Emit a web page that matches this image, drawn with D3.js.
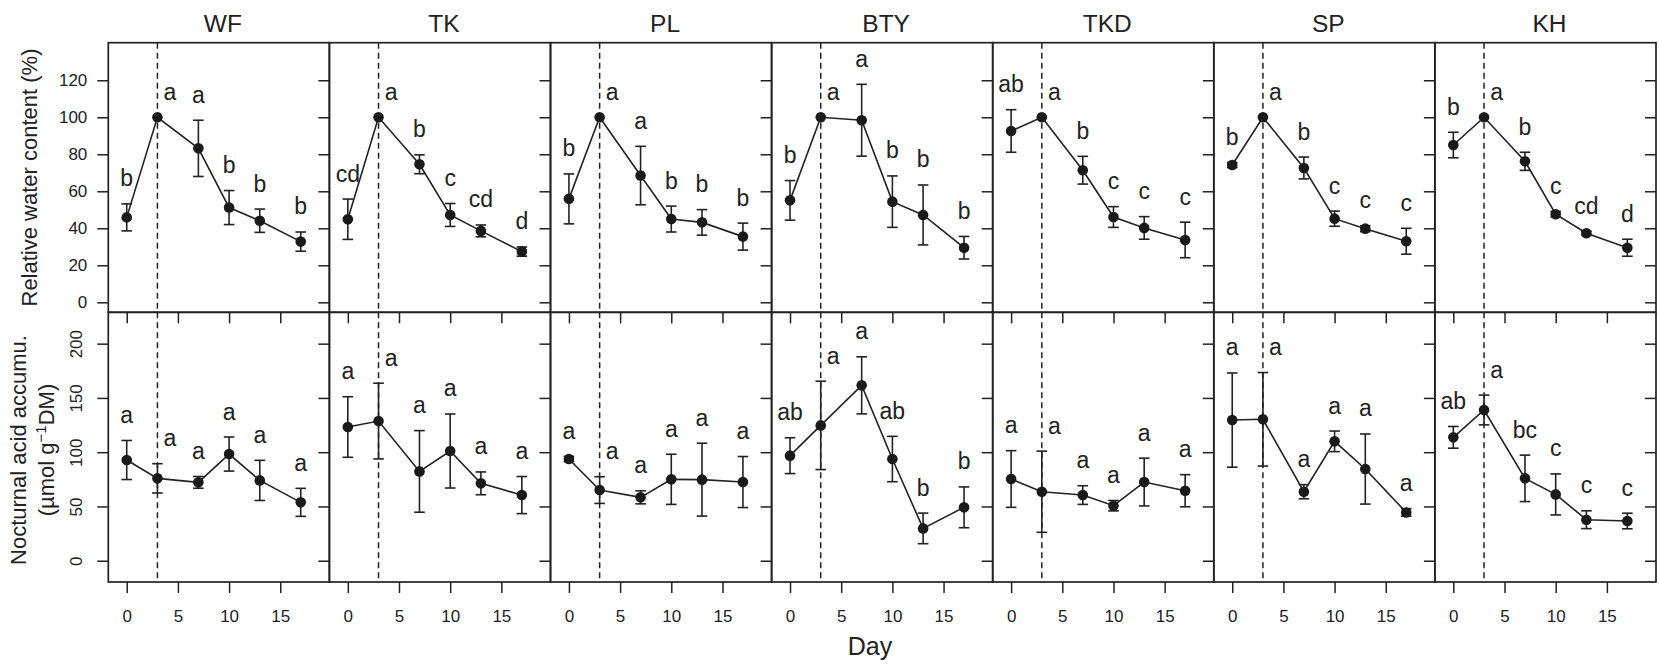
<!DOCTYPE html>
<html lang="en">
<head>
<meta charset="UTF-8">
<title>Relative water content and nocturnal acid accumulation</title>
<script src="https://d3js.org/d3.v7.min.js"></script>
<style>
  body { margin: 0; background: #fff; }
  svg { display: block; font-family: "Liberation Sans", Arial, sans-serif; }
  .frame { fill: none; stroke: #222; stroke-width: 1.7; }
  .tick line { stroke: #222; stroke-width: 1.5; }
  .tick text { fill: #222; font-size: 17px; }
  .domain { display: none; }
  .series { fill: none; stroke: #222; stroke-width: 1.6; }
  .err { stroke: #222; stroke-width: 1.6; }
  .dot { fill: #1a1a1a; }
  .drop { stroke: #222; stroke-width: 1.5; stroke-dasharray: 6 4; }
  .letter { font-size: 23px; fill: #222; text-anchor: middle; }
  .label { fill: #222; }
</style>
</head>
<body>
<svg id="chart" width="1659" height="664"></svg>
<script>
// sites and sampling days
const sites = ["WF", "TK", "PL", "BTY", "TKD", "SP", "KH"];
const days = [0, 3, 7, 10, 13, 17];
const rewaterDay = 3;

// relative water content (%), mean and error, one row per site
const rwcMean = [
  [45.9, 100, 83.2, 51.2, 44.1, 32.8],
  [44.9, 100, 74.6, 47.2, 38.6, 27.4],
  [55.9, 100, 68.5, 45.0, 43.2, 35.5],
  [55.1, 100, 98.4, 54.4, 47.2, 29.5],
  [92.6, 100, 71.4, 46.1, 40.2, 33.7],
  [74.2, 100, 72.6, 45.2, 39.8, 33.0],
  [85.0, 100, 76.2, 47.6, 37.3, 29.5]
];
const rwcErr = [
  [7.3, 0, 15.2, 9.2, 6.3, 5.2],
  [10.9, 0, 5.1, 6.2, 3.2, 2.5],
  [13.5, 0, 15.8, 7.0, 6.9, 7.3],
  [10.7, 0, 19.4, 13.9, 16.2, 6.1],
  [11.5, 0, 7.5, 5.6, 6.1, 9.6],
  [1.4, 0, 5.9, 4.1, 1.6, 7.0],
  [6.9, 0, 4.9, 1.5, 1.1, 4.6]
];
const rwcLetters = [
  ["b", "a", "a", "b", "b", "b"],
  ["cd", "a", "b", "c", "cd", "d"],
  ["b", "a", "a", "b", "b", "b"],
  ["b", "a", "a", "b", "b", "b"],
  ["ab", "a", "b", "c", "c", "c"],
  ["b", "a", "b", "c", "c", "c"],
  ["b", "a", "b", "c", "cd", "d"]
];

// nocturnal acid accumulation (umol g-1 DM)
const acidMean = [
  [92.8, 75.9, 72.2, 98.3, 74.0, 53.8],
  [123.2, 128.7, 82.3, 101.1, 71.3, 60.5],
  [93.7, 65.1, 58.4, 75.0, 74.7, 72.5],
  [96.8, 124.7, 161.6, 93.7, 29.8, 49.2],
  [75.3, 63.6, 60.5, 50.7, 72.5, 64.5],
  [129.6, 130.3, 63.6, 110.0, 84.5, 44.5],
  [113.7, 138.9, 75.9, 61.1, 37.8, 36.6]
];
const acidErr = [
  [18.0, 13.5, 5.4, 15.7, 18.5, 12.9],
  [27.9, 34.9, 37.6, 34.1, 10.5, 17.1],
  [2.4, 12.3, 6.0, 23.1, 33.6, 23.5],
  [16.5, 40.7, 26.3, 20.9, 14.1, 18.8],
  [26.1, 37.4, 8.6, 4.8, 22.0, 14.8],
  [43.4, 43.1, 6.5, 9.5, 32.3, 3.5],
  [10.0, 13.7, 21.4, 18.9, 8.2, 7.2]
];
const acidLetters = [
  ["a", "a", "a", "a", "a", "a"],
  ["a", "a", "a", "a", "a", "a"],
  ["a", "a", "a", "a", "a", "a"],
  ["ab", "a", "a", "ab", "b", "b"],
  ["a", "a", "a", "a", "a", "a"],
  ["a", "a", "a", "a", "a", "a"],
  ["ab", "a", "bc", "c", "c", "c"]
];

const rwcTicks = [0, 20, 40, 60, 80, 100, 120];
const acidTicks = [0, 50, 100, 150, 200];
const dayTicks = [0, 5, 10, 15];

// layout
const svg = d3.select("#chart");
const left = 108.3, panelW = 221.1;
const rowTop = [42.7, 312.3], rowBottom = [312.3, 582];
const tickLen = 11;

const rows = [
  { mean: rwcMean, err: rwcErr, letters: rwcLetters, ticks: rwcTicks, domain: [-5.4, 140.3], rotate: false },
  { mean: acidMean, err: acidErr, letters: acidLetters, ticks: acidTicks, domain: [-19.6, 228.9], rotate: true }
];

rows.forEach((row, r) => {
  const y = d3.scaleLinear().domain(row.domain).range([rowBottom[r], rowTop[r]]);

  sites.forEach((site, i) => {
    const x0 = left + i * panelW;
    const x = d3.scaleLinear().domain([-1.8, 19.8]).range([x0, x0 + panelW]);
    const g = svg.append("g");

    // dashed line at rewatering
    g.append("line").attr("class", "drop")
      .attr("x1", x(rewaterDay)).attr("x2", x(rewaterDay))
      .attr("y1", rowTop[r]).attr("y2", rowBottom[r]);

    const pts = days.map((d, k) => ({ d: d, m: row.mean[i][k], e: row.err[i][k], lab: row.letters[i][k] }));

    g.append("path").attr("class", "series")
      .attr("d", d3.line().x(p => x(p.d)).y(p => y(p.m))(pts));

    const bars = g.selectAll(".eb").data(pts.filter(p => p.e > 0.5)).join("g");
    bars.append("line").attr("class", "err")
      .attr("x1", p => x(p.d)).attr("x2", p => x(p.d))
      .attr("y1", p => y(p.m - p.e)).attr("y2", p => y(p.m + p.e));
    [-1, 1].forEach(s => {
      bars.append("line").attr("class", "err")
        .attr("x1", p => x(p.d) - 5.3).attr("x2", p => x(p.d) + 5.3)
        .attr("y1", p => y(p.m + s * p.e)).attr("y2", p => y(p.m + s * p.e));
    });

    g.selectAll(".dot").data(pts).join("circle").attr("class", "dot")
      .attr("cx", p => x(p.d)).attr("cy", p => y(p.m)).attr("r", 5.3);

    g.selectAll(".letter").data(pts).join("text").attr("class", "letter")
      .attr("x", p => x(p.d) + (p.d === rewaterDay ? 12.5 : 0))
      .attr("y", p => y(p.m + p.e) - 17.5)
      .text(p => p.lab);

    // inward y ticks on the right edge of each panel
    g.append("g").attr("transform", `translate(${x0 + panelW},0)`)
      .call(d3.axisLeft(y).tickValues(row.ticks).tickSize(tickLen).tickFormat(""));

    // x ticks
    if (r === 0) {
      g.append("g").attr("transform", `translate(0,${rowBottom[r]})`)
        .call(d3.axisBottom(x).tickValues(dayTicks).tickSize(tickLen).tickFormat(""));
    } else {
      g.append("g").attr("transform", `translate(0,${rowBottom[r]})`)
        .call(d3.axisBottom(x).tickValues(dayTicks).tickSize(tickLen).tickPadding(17));
    }

    g.append("rect").attr("class", "frame")
      .attr("x", x0).attr("y", rowTop[r]).attr("width", panelW).attr("height", rowBottom[r] - rowTop[r]);

    if (r === 0) {
      svg.append("text").attr("class", "label")
        .attr("x", x0 + panelW / 2 + 4).attr("y", 32.3)
        .attr("text-anchor", "middle").style("font-size", "24.5px")
        .text(site);
    }
  });

  // labelled y axis on the first panel
  const ax = svg.append("g").attr("transform", `translate(${left},0)`)
    .call(d3.axisLeft(y).tickValues(row.ticks).tickSize(tickLen).tickPadding(10));
  if (row.rotate) {
    ax.selectAll(".tick text")
      .attr("x", null).attr("dy", null)
      .attr("text-anchor", "middle")
      .attr("transform", "translate(-26.6,0) rotate(-90)");
  }
});

// axis titles
svg.append("text").attr("class", "label")
  .attr("transform", "translate(37,177.5) rotate(-90)")
  .attr("text-anchor", "middle").style("font-size", "22px")
  .text("Relative water content (%)");

svg.append("text").attr("class", "label")
  .attr("transform", "translate(26,450) rotate(-90)")
  .attr("text-anchor", "middle").style("font-size", "22px")
  .text("Nocturnal acid accumu.");

const unit = svg.append("text").attr("class", "label")
  .attr("transform", "translate(54,450) rotate(-90)")
  .attr("text-anchor", "middle").style("font-size", "22px");
unit.append("tspan").text("(\u00b5mol g");
unit.append("tspan").attr("dy", -8).style("font-size", "15px").text("\u22121");
unit.append("tspan").attr("dy", 8).text("DM)");

svg.append("text").attr("class", "label")
  .attr("x", 870).attr("y", 655)
  .attr("text-anchor", "middle").style("font-size", "25px")
  .text("Day");
</script>
</body>
</html>
